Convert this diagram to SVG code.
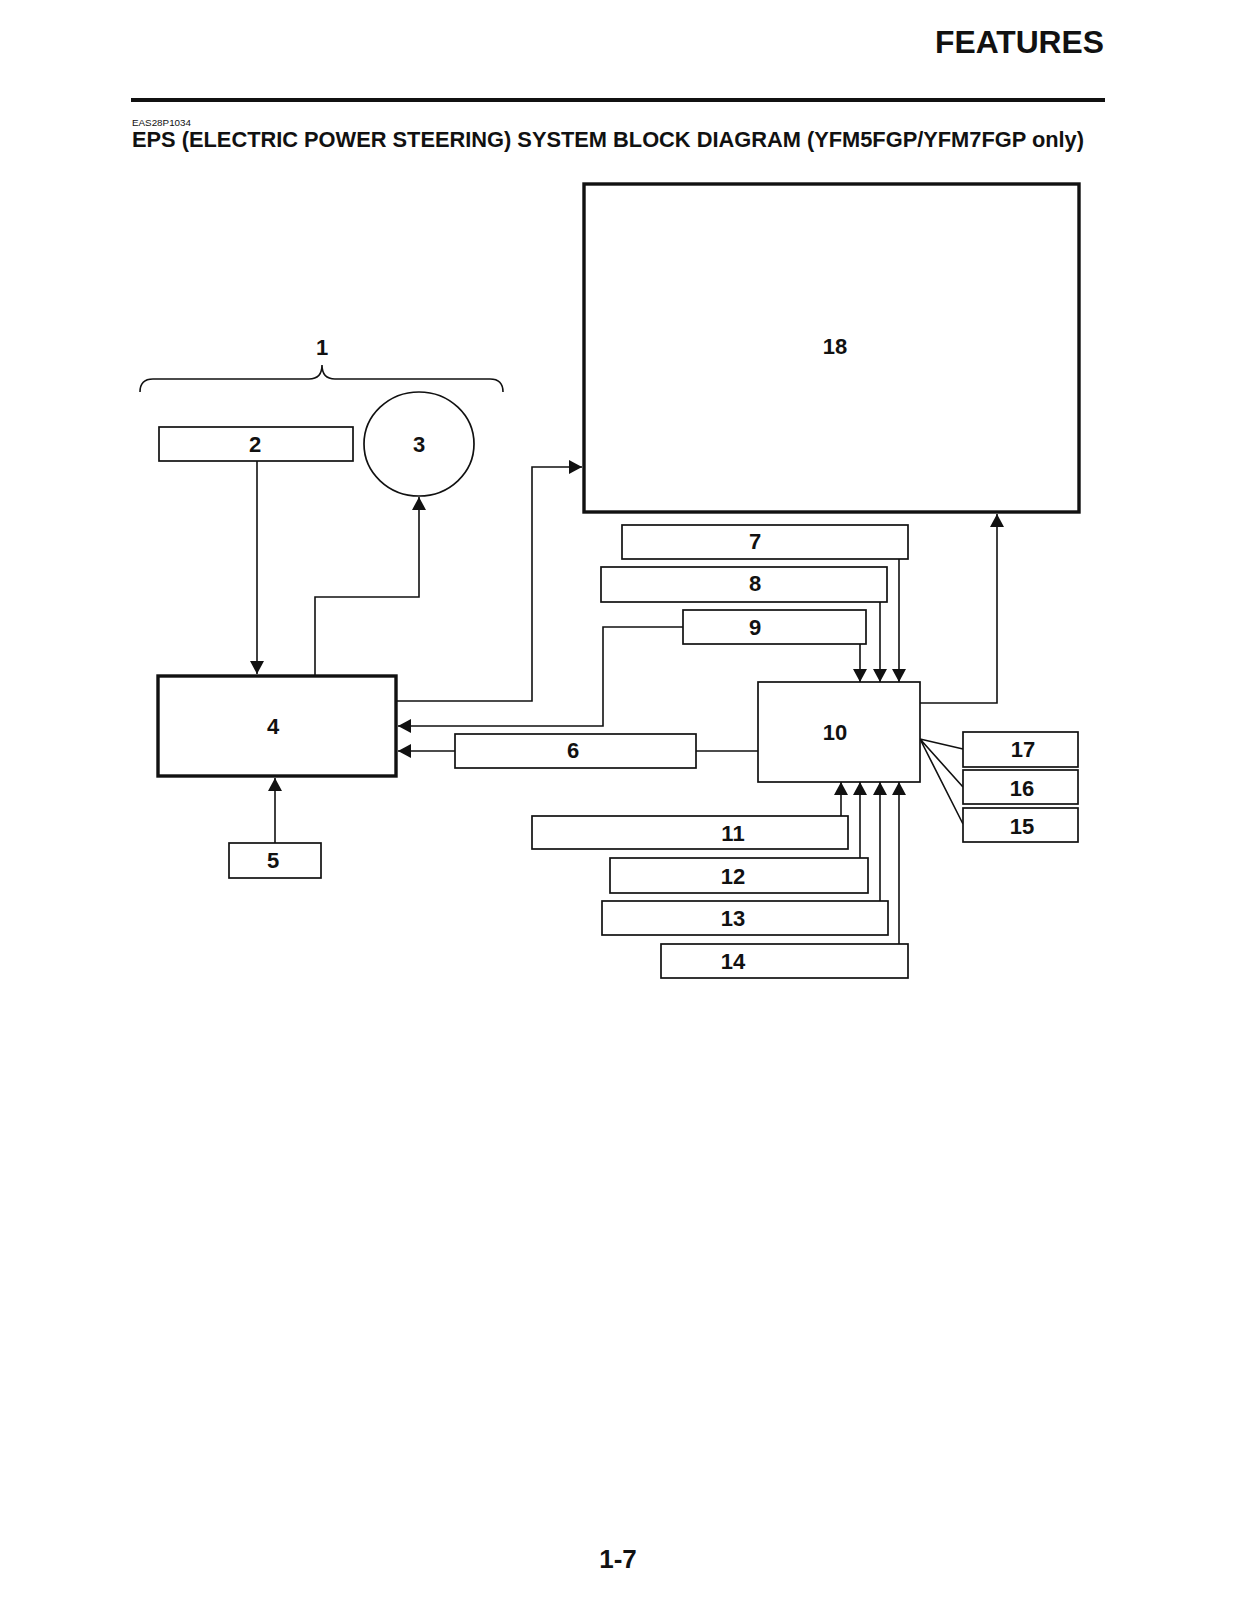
<svg xmlns="http://www.w3.org/2000/svg" width="1236" height="1600" viewBox="0 0 1236 1600">
<style>
text{font-family:"Liberation Sans",Arial,sans-serif;font-weight:bold;fill:#111}
.lbl{font-size:22px;text-anchor:middle}
.box{fill:#fff;stroke:#111;stroke-width:1.7}
.thick{fill:#fff;stroke:#111;stroke-width:3.4}
.ln{fill:none;stroke:#111;stroke-width:1.6}
.arr{fill:none;stroke:#111;stroke-width:1.6;marker-end:url(#ah)}
</style>
<defs>
<marker id="ah" markerUnits="userSpaceOnUse" markerWidth="14" markerHeight="14" refX="13" refY="7" orient="auto">
<path d="M0,0 L13,7 L0,14 z" fill="#111"/>
</marker>
</defs>
<rect width="1236" height="1600" fill="#fff"/>
<g id="header">
<text x="1104" y="53" font-size="32" text-anchor="end" textLength="169" lengthAdjust="spacingAndGlyphs">FEATURES</text>
<rect x="131" y="98" width="974" height="4" fill="#111"/>
<text x="132" y="126" font-size="9" style="font-weight:normal" textLength="59" lengthAdjust="spacingAndGlyphs">EAS28P1034</text>
<text x="132" y="147" font-size="22.5" textLength="952" lengthAdjust="spacingAndGlyphs">EPS (ELECTRIC POWER STEERING) SYSTEM BLOCK DIAGRAM (YFM5FGP/YFM7FGP only)</text>
</g>
<g id="connectors">
<path class="arr" d="M257,461 V674"/>
<path class="arr" d="M315,676 V597 H419 V497"/>
<path class="arr" d="M396,701 H532 V467 H582"/>
<path class="arr" d="M683,627 H603 V726 H398"/>
<path class="arr" d="M455,751 H398"/>
<path class="ln" d="M696,751 H758"/>
<path class="arr" d="M860,644 V682"/>
<path class="arr" d="M880,602 V682"/>
<path class="arr" d="M899,559 V682"/>
<path class="arr" d="M841,816 V782"/>
<path class="arr" d="M860,858 V782"/>
<path class="arr" d="M880,901 V782"/>
<path class="arr" d="M899,944 V782"/>
<path class="arr" d="M920,703 H997 V514"/>
<path class="ln" d="M920,739 L963,749 M920,739 L963,787 M920,739 L963,824"/>
<path class="arr" d="M275,843 V778"/>
</g>
<g id="n1">
<path class="ln" d="M140,392 Q140,379 153,379 H309 Q322,379 322,365 Q322,379 335,379 H490 Q503,379 503,392"/>
<text class="lbl" x="322" y="355">1</text>
</g>
<g id="n2"><rect class="box" x="159" y="427" width="194" height="34"/><text class="lbl" x="255" y="452">2</text></g>
<g id="n3"><ellipse class="box" cx="419" cy="444" rx="55" ry="52"/><text class="lbl" x="419" y="452">3</text></g>
<g id="n4"><rect class="thick" x="158" y="676" width="238" height="100"/><text class="lbl" x="273" y="734">4</text></g>
<g id="n5"><rect class="box" x="229" y="843" width="92" height="35"/><text class="lbl" x="273" y="868">5</text></g>
<g id="n6"><rect class="box" x="455" y="734" width="241" height="34"/><text class="lbl" x="573" y="758">6</text></g>
<g id="n7"><rect class="box" x="622" y="525" width="286" height="34"/><text class="lbl" x="755" y="549">7</text></g>
<g id="n8"><rect class="box" x="601" y="567" width="286" height="35"/><text class="lbl" x="755" y="591">8</text></g>
<g id="n9"><rect class="box" x="683" y="610" width="183" height="34"/><text class="lbl" x="755" y="635">9</text></g>
<g id="n10"><rect class="box" x="758" y="682" width="162" height="100"/><text class="lbl" x="835" y="740">10</text></g>
<g id="n11"><rect class="box" x="532" y="816" width="316" height="33"/><text class="lbl" x="733" y="841">11</text></g>
<g id="n12"><rect class="box" x="610" y="858" width="258" height="35"/><text class="lbl" x="733" y="884">12</text></g>
<g id="n13"><rect class="box" x="602" y="901" width="286" height="34"/><text class="lbl" x="733" y="926">13</text></g>
<g id="n14"><rect class="box" x="661" y="944" width="247" height="34"/><text class="lbl" x="733" y="969">14</text></g>
<g id="n15"><rect class="box" x="963" y="808" width="115" height="34"/><text class="lbl" x="1022" y="834">15</text></g>
<g id="n16"><rect class="box" x="963" y="770" width="115" height="34"/><text class="lbl" x="1022" y="796">16</text></g>
<g id="n17"><rect class="box" x="963" y="732" width="115" height="35"/><text class="lbl" x="1023" y="757">17</text></g>
<g id="n18"><rect class="thick" x="584" y="184" width="495" height="328"/><text class="lbl" x="835" y="354">18</text></g>
<g id="footer"><text x="618" y="1568" font-size="26" text-anchor="middle">1-7</text></g>
</svg>
